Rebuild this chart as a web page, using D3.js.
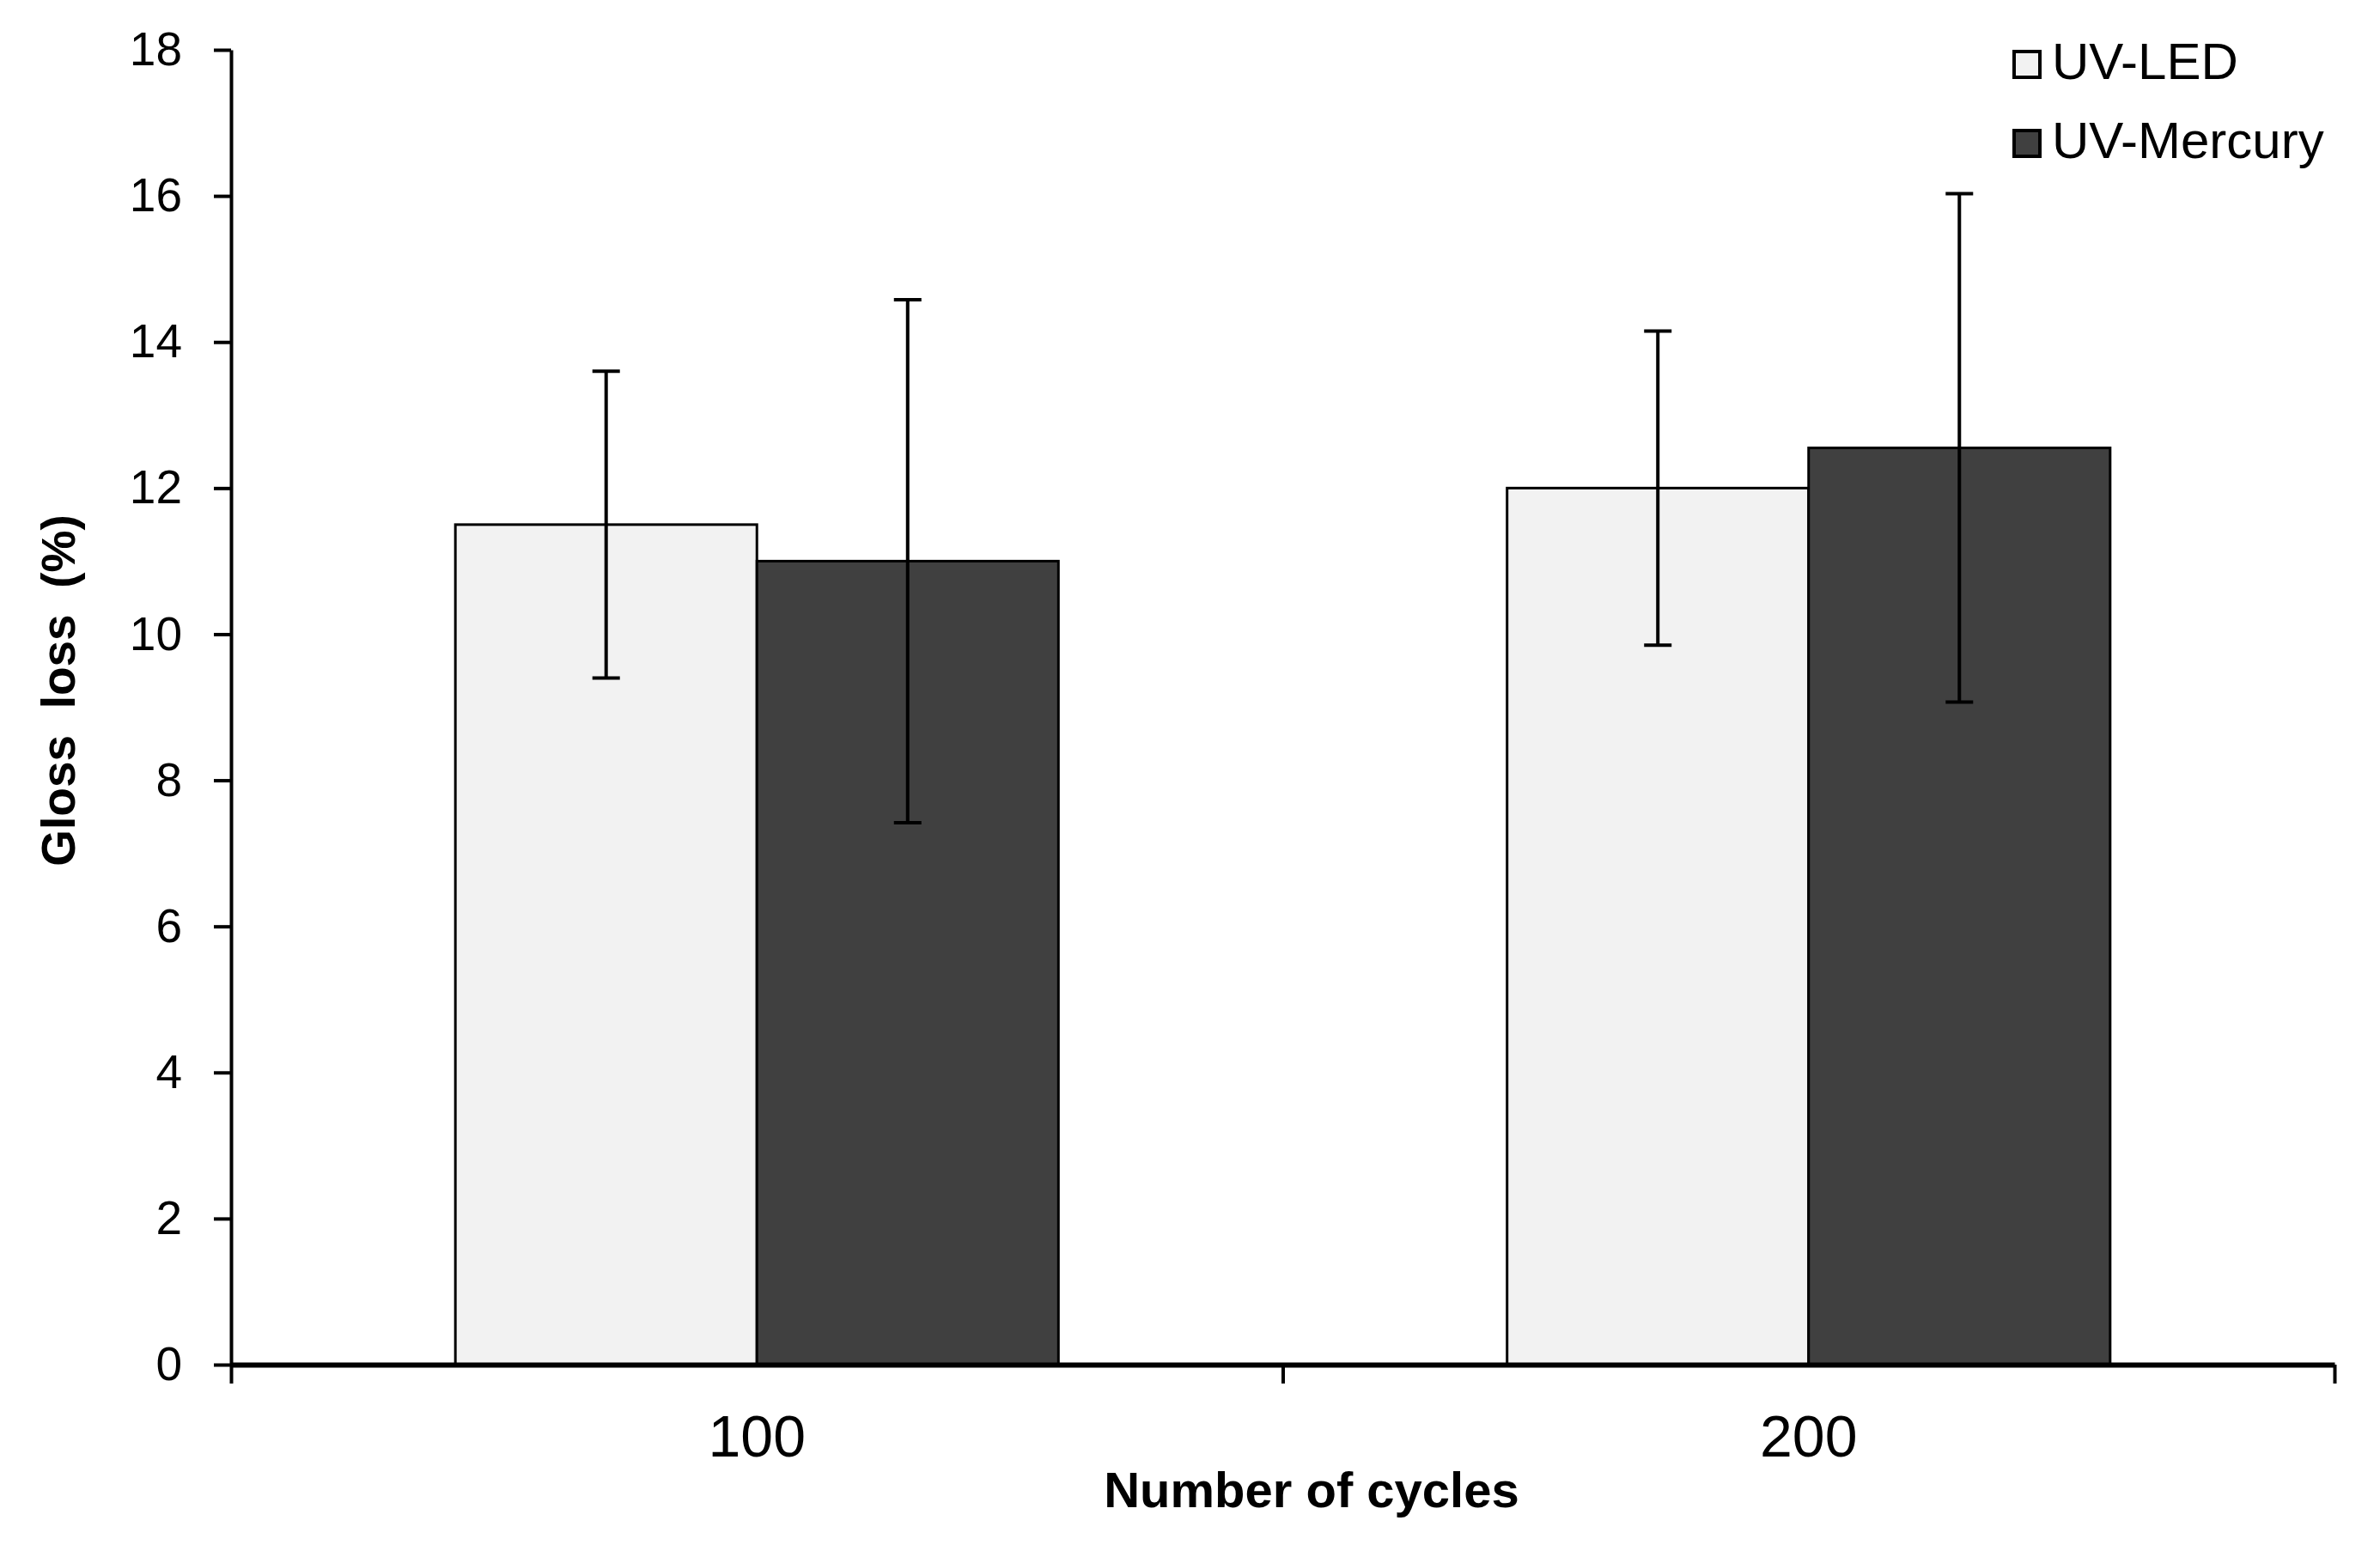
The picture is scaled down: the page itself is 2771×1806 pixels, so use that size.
<!DOCTYPE html>
<html>
<head>
<meta charset="utf-8">
<script src="https://cdn.jsdelivr.net/npm/d3@7"></script>
<style>
  body { margin: 0; background: #fff; }
  text { font-family: "Liberation Sans", Arial, sans-serif; fill: #000; }
</style>
</head>
<body>
<div id="chart"></div>
<script>
// values
const cycles = ['100', '200'];
const series = ['UV-LED', 'UV-Mercury'];
const ledValues = [11.5, 12.0];
const ledErrors = [2.1, 2.15];
const mercuryValues = [11.0, 12.55];
const mercuryErrors = [3.58, 3.48];
const yTicks = [0, 2, 4, 6, 8, 10, 12, 14, 16, 18];

const fills = { 'UV-LED': '#f2f2f2', 'UV-Mercury': '#404040' };

const width = 2771, height = 1806;
const plotLeft = 269, plotRight = 2718, plotTop = 58, plotBottom = 1589;

let svg = d3.select('#chart').append('svg')
    .attr('width', width)
    .attr('height', height);

let y = d3.scaleLinear().domain([0, 18]).range([plotBottom, plotTop]);
let x0 = d3.scaleBand().domain(cycles).range([plotLeft, plotRight]).padding(0);
let x1 = d3.scaleBand().domain(series).range([0, x0.bandwidth()])
    .paddingInner(0).paddingOuter(0.744);
let edges = d3.scaleLinear().domain([0, cycles.length]).range([plotLeft, plotRight]);

let rows = cycles.map((c, i) => ({
    cycle: c,
    values: [
        { key: 'UV-LED', value: ledValues[i], err: ledErrors[i] },
        { key: 'UV-Mercury', value: mercuryValues[i], err: mercuryErrors[i] }
    ]
}));

// bars
let groups = svg.append('g')
    .selectAll('g')
    .data(rows)
    .enter().append('g')
    .attr('transform', d => `translate(${x0(d.cycle)},0)`);

groups.selectAll('rect')
    .data(d => d.values)
    .enter().append('rect')
    .attr('x', d => x1(d.key))
    .attr('y', d => y(d.value))
    .attr('width', x1.bandwidth())
    .attr('height', d => y(0) - y(d.value))
    .attr('fill', d => fills[d.key])
    .attr('stroke', '#000')
    .attr('stroke-width', 3);

// error bars
let cap = 16;
let errs = groups.selectAll('g.err')
    .data(d => d.values)
    .enter().append('g')
    .attr('class', 'err')
    .attr('stroke', '#000')
    .attr('stroke-width', 4);

errs.append('line')
    .attr('x1', d => x1(d.key) + x1.bandwidth() / 2)
    .attr('x2', d => x1(d.key) + x1.bandwidth() / 2)
    .attr('y1', d => y(d.value + d.err))
    .attr('y2', d => y(d.value - d.err));

for (let sign of [1, -1]) {
    errs.append('line')
        .attr('x1', d => x1(d.key) + x1.bandwidth() / 2 - cap)
        .attr('x2', d => x1(d.key) + x1.bandwidth() / 2 + cap)
        .attr('y1', d => y(d.value + sign * d.err))
        .attr('y2', d => y(d.value + sign * d.err));
}

// y axis
let yAxis = svg.append('g')
    .attr('transform', `translate(${plotLeft},0)`)
    .call(d3.axisLeft(y).tickValues(yTicks).tickSize(20).tickSizeOuter(0).tickPadding(37));
yAxis.selectAll('line, path').attr('stroke', '#000').attr('stroke-width', 4);
yAxis.selectAll('text').attr('font-size', 55).attr('font-family', '"Liberation Sans", Arial, sans-serif');

// x axis: boundary ticks and the base line
let xEdges = svg.append('g')
    .attr('transform', `translate(0,${plotBottom})`)
    .call(d3.axisBottom(edges).tickValues(d3.range(cycles.length + 1)).tickFormat('').tickSize(22).tickSizeOuter(0));
xEdges.select('path').attr('stroke', '#000').attr('stroke-width', 6);
xEdges.selectAll('line').attr('stroke', '#000').attr('stroke-width', 4);

// x axis labels at category centres
let xLabels = svg.append('g')
    .attr('transform', `translate(0,${plotBottom})`)
    .call(d3.axisBottom(x0).tickSize(0).tickPadding(59));
xLabels.select('path').remove();
xLabels.selectAll('text').attr('font-size', 68).attr('font-family', '"Liberation Sans", Arial, sans-serif');

// axis titles
svg.append('text')
    .text('Number of cycles')
    .attr('x', 1527)
    .attr('y', 1755)
    .attr('text-anchor', 'middle')
    .attr('font-weight', 'bold')
    .attr('font-size', 58);

svg.append('text')
    .text('Gloss  loss  (%)')
    .style('white-space', 'pre')
    .attr('transform', 'translate(68,804) rotate(-90)')
    .attr('text-anchor', 'middle')
    .attr('dominant-baseline', 'central')
    .attr('font-weight', 'bold')
    .attr('font-size', 55);

// legend
let legend = svg.append('g')
    .attr('transform', 'translate(2345,60)')
    .selectAll('g')
    .data(series)
    .enter().append('g')
    .attr('transform', (d, i) => `translate(0,${i * 92})`);

legend.append('rect')
    .attr('width', 30)
    .attr('height', 30)
    .attr('fill', d => fills[d])
    .attr('stroke', '#000')
    .attr('stroke-width', 4);

legend.append('text')
    .text(d => d)
    .attr('x', 44)
    .attr('y', 32)
    .attr('font-size', 60);
</script>
</body>
</html>
